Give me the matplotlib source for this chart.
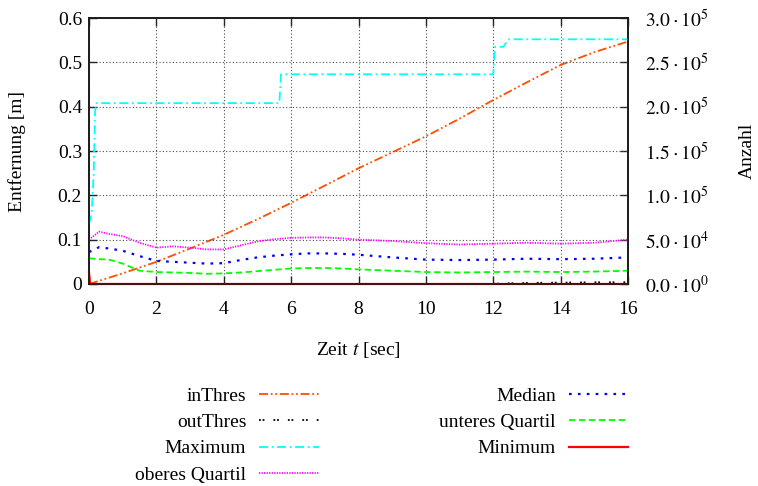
import matplotlib
matplotlib.use("Agg")
import matplotlib.pyplot as plt
from matplotlib.ticker import FixedLocator, FixedFormatter

plt.rcParams["font.family"] = ["Liberation Serif", "DejaVu Serif"]
plt.rcParams["mathtext.fontset"] = "stix"
plt.rcParams["font.size"] = 14

# --- distance statistics over time (left axis, metres) ---
t_stats = [0, 0.3, 0.6, 1, 1.5, 2, 2.5, 3, 3.5, 4, 4.5, 5, 5.5, 6, 6.5, 7,
           7.5, 8, 9, 10, 11, 12, 13, 14, 15, 16]
median = [0.072, 0.083, 0.080, 0.075, 0.063, 0.052, 0.050, 0.048, 0.046, 0.047,
          0.054, 0.060, 0.064, 0.067, 0.069, 0.069, 0.068, 0.066, 0.060, 0.055,
          0.054, 0.055, 0.057, 0.056, 0.057, 0.060]
upper_quartile = [0.100, 0.118, 0.113, 0.108, 0.093, 0.082, 0.085, 0.082, 0.078,
                  0.078, 0.087, 0.096, 0.101, 0.104, 0.105, 0.105, 0.103, 0.100,
                  0.097, 0.092, 0.089, 0.091, 0.093, 0.091, 0.093, 0.100]
lower_quartile = [0.058, 0.056, 0.055, 0.046, 0.030, 0.027, 0.026, 0.025, 0.023,
                  0.024, 0.026, 0.029, 0.032, 0.035, 0.036, 0.036, 0.035, 0.033,
                  0.030, 0.027, 0.026, 0.027, 0.028, 0.027, 0.028, 0.030]

t_max = [0, 0.08, 0.14, 0.18, 0.22, 5.65, 5.70, 12.0, 12.05, 12.3, 12.45, 16]
maximum = [0.135, 0.16, 0.25, 0.39, 0.408, 0.408, 0.473, 0.473, 0.535, 0.535,
           0.552, 0.552]

t_min = [0, 0.03, 16]
minimum = [0.026, 0.0, 0.0]

# --- point counts over time (right axis) ---
t_in = [0, 1, 2, 3, 4, 5, 6, 7, 8, 9, 10, 11, 12, 13, 14, 15, 16]
in_thres = [0, 1.2e4, 2.5e4, 4.0e4, 5.55e4, 7.3e4, 9.15e4, 1.11e5, 1.305e5,
            1.485e5, 1.665e5, 1.865e5, 2.075e5, 2.275e5, 2.47e5, 2.615e5, 2.735e5]

t_out = [0, 11.8, 12.5, 13, 14, 15, 16]
out_thres = [0, 0, 800, 1200, 1600, 1900, 2000]

x_ticks = [0, 2, 4, 6, 8, 10, 12, 14, 16]
y_ticks = [0, 0.1, 0.2, 0.3, 0.4, 0.5, 0.6]
y_tick_labels = ["0", "0.1", "0.2", "0.3", "0.4", "0.5", "0.6"]
count_ticks = [0, 5e4, 1e5, 1.5e5, 2e5, 2.5e5, 3e5]
count_tick_labels = [r"$0.0\cdot10^{0}$", r"$5.0\cdot10^{4}$", r"$1.0\cdot10^{5}$",
                     r"$1.5\cdot10^{5}$", r"$2.0\cdot10^{5}$", r"$2.5\cdot10^{5}$",
                     r"$3.0\cdot10^{5}$"]

fig = plt.figure(figsize=(7.58, 4.86), dpi=100)
ax = fig.add_axes([89 / 758, 1 - 284 / 486, 539 / 758, 266 / 486])
ax2 = ax.twinx()

lw = 1.3
ax.set_zorder(2)
ax.patch.set_visible(False)

l_in, = ax2.plot(t_in, in_thres, color="#ff4f00", lw=lw,
                 linestyle=(0, (5, 1.5, 1, 1.5, 1, 1.5)), label="inThres")
l_out, = ax2.plot(t_out, out_thres, color="black", lw=lw,
                  linestyle=(0, (1, 1, 1, 5)), label="outThres")
l_max, = ax.plot(t_max, maximum, color="#00ffff", lw=lw,
                 linestyle=(0, (5, 2, 1, 2)), label="Maximum")
l_uq, = ax.plot(t_stats, upper_quartile, color="#ff00ff", lw=lw,
                linestyle=(0, (0.7, 0.7)), label="oberes Quartil")
l_med, = ax.plot(t_stats, median, color="#0000ff", lw=lw + 0.3,
                 linestyle=(0, (1.2, 2.8)), label="Median")
l_lq, = ax.plot(t_stats, lower_quartile, color="#00ff00", lw=lw,
                linestyle=(0, (3.5, 2)), label="unteres Quartil")
l_min, = ax.plot(t_min, minimum, color="#ff0000", lw=lw + 0.3,
                 linestyle="-", label="Minimum", clip_on=False)

ax.set_xlim(0, 16)
ax.set_ylim(0, 0.6)
ax2.set_ylim(0, 3e5)

ax.xaxis.set_major_locator(FixedLocator(x_ticks))
ax.yaxis.set_major_locator(FixedLocator(y_ticks))
ax.yaxis.set_major_formatter(FixedFormatter(y_tick_labels))
ax2.yaxis.set_major_locator(FixedLocator(count_ticks))
ax2.yaxis.set_major_formatter(FixedFormatter(count_tick_labels))

ax.grid(True, color="0.3", linestyle=(0, (1, 2)), lw=0.8)
ax.tick_params(axis="x", direction="in", length=6, width=1, top=True, pad=12,
               colors="0.15", labelcolor="black")
ax.tick_params(axis="y", direction="in", length=6, width=1, right=False, pad=5,
               colors="0.15", labelcolor="black")
ax2.tick_params(axis="y", direction="in", length=6, width=1, pad=12,
                colors="0.15", labelcolor="black")

for a in (ax, ax2):
    for s in a.spines.values():
        s.set_linewidth(1.2)
        s.set_color("0.1")

ax.set_xlabel(r"Zeit $t$ [sec]")
ax.xaxis.set_label_coords(0.5, -0.212)
ax.set_ylabel("Entfernung [m]", va="center")
ax.yaxis.set_label_coords(-0.134, 0.5)
ax2.set_ylabel("Anzahl", va="center", rotation=90)
ax2.yaxis.set_label_coords(1.221, 0.5)

handles = [l_in, l_out, l_max, l_uq, l_med, l_lq, l_min]
fig.legend(handles=handles, labels=[h.get_label() for h in handles], ncol=2,
           markerfirst=False, frameon=False, loc="upper right",
           bbox_to_anchor=(628 / 758, 1 - 387 / 486), borderaxespad=0,
           borderpad=0, handlelength=3.05, handletextpad=0.67,
           labelspacing=0.45, columnspacing=6.2)

fig.savefig("out.png", dpi=100)
